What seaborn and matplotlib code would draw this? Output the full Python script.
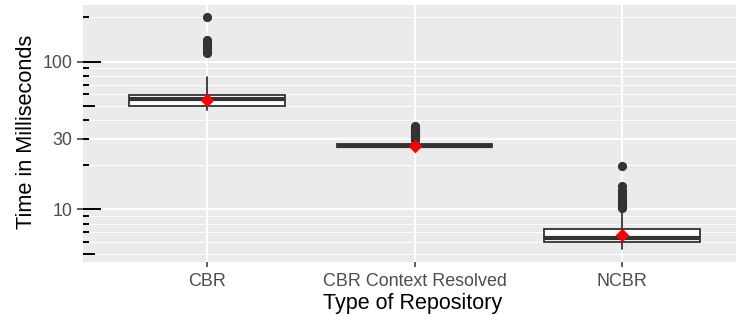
import matplotlib
matplotlib.use("Agg")
import matplotlib.pyplot as plt
from matplotlib.ticker import NullFormatter
import pandas as pd
import seaborn as sns

# ---------------- data ----------------
categories = ["CBR", "CBR Context Resolved", "NCBR"]
q1_ms = [49.9, 26.4, 6.00]
median_ms = [55.7, 27.0, 6.37]
q3_ms = [59.5, 27.5, 7.35]
whisker_low_ms = [47.1, 26.0, 5.36]
whisker_high_ms = [79.1, 29.2, 9.9]
mean_ms = [55.0, 27.0, 6.67]
outliers_cbr = [202, 140, 134, 129, 124, 119, 115]
outliers_ctx = [36.4, 35.5, 34.8, 34.0, 33.3, 32.6, 32.0, 31.4, 30.8, 30.2, 29.7]
outliers_ncbr = [19.6, 14.3, 13.6, 13.0, 12.5, 12.0, 11.6, 11.2, 10.8, 10.5, 10.2]

y_major_ticks = [10, 30, 100]
y_tick_labels = ["10", "30", "100"]
y_minor_grid = [5, 6, 7, 8, 9, 20, 40, 50, 60, 70, 80, 90, 200]
log_ticks_long = [10, 100]
log_ticks_mid = [5, 50]
log_ticks_short = [6, 7, 8, 9, 20, 30, 40, 60, 70, 80, 90, 200]

x_title = "Type of Repository"
y_title = "Time in Milliseconds"

# ---------------- style ----------------
sns.set_theme(style="darkgrid")
plt.rcParams["font.family"] = ["Liberation Sans", "DejaVu Sans"]

W, H = 736, 320
pl, pr, pt, pb = 82.7, 736.0, 5.0, 261.7
fig = plt.figure(figsize=(W / 100, H / 100), dpi=100)
ax = fig.add_axes([pl / W, (H - pb) / H, (pr - pl) / W, (pb - pt) / H])
ax.set_facecolor("#EBEBEB")
for s in ax.spines.values():
    s.set_visible(False)

# ---------------- outliers and means (seaborn) ----------------
out_df = pd.DataFrame({
    "category": [categories[0]] * len(outliers_cbr)
    + [categories[1]] * len(outliers_ctx)
    + [categories[2]] * len(outliers_ncbr),
    "ms": outliers_cbr + outliers_ctx + outliers_ncbr,
})
mean_df = pd.DataFrame({"category": categories, "ms": mean_ms})

sns.stripplot(data=out_df, x="category", y="ms", order=categories,
              jitter=False, color="#333333", size=6.6, linewidth=0,
              zorder=3, ax=ax)

# ---------------- boxes ----------------
stats = []
for i in range(len(categories)):
    stats.append({"med": median_ms[i], "q1": q1_ms[i], "q3": q3_ms[i],
                  "whislo": whisker_low_ms[i], "whishi": whisker_high_ms[i],
                  "fliers": []})
ax.bxp(stats, positions=list(range(len(categories))), widths=0.75,
       showfliers=False, showcaps=False, patch_artist=True,
       manage_ticks=False,
       boxprops=dict(facecolor="white", edgecolor="#333333", linewidth=1.3),
       whiskerprops=dict(color="#333333", linewidth=1.3),
       medianprops=dict(color="#333333", linewidth=3.0, solid_capstyle="butt"),
       zorder=2)

sns.stripplot(data=mean_df, x="category", y="ms", order=categories,
              jitter=False, color="red", marker="D", size=7.0, linewidth=0,
              zorder=4, ax=ax)

# ---------------- axes ----------------
ax.set_yscale("log")
ax.set_yticks(y_major_ticks)
ax.set_yticklabels(y_tick_labels)
ax.set_yticks(y_minor_grid, minor=True)
ax.yaxis.set_minor_formatter(NullFormatter())
ax.set_xticks(range(len(categories)))
ax.set_xticklabels(categories)

ax.grid(which="major", color="white", linewidth=1.45)
ax.grid(which="minor", axis="y", color="white", linewidth=0.75)
ax.set_axisbelow(True)

ax.tick_params(axis="y", which="major", direction="out", length=4.3,
               width=1.1, color="#333333", labelsize=12.8,
               labelcolor="#4D4D4D", pad=3.4, left=True)
ax.tick_params(axis="y", which="minor", length=0)
ax.tick_params(axis="x", which="major", direction="out", length=3.3,
               width=1.1, color="#333333", labelsize=12.9,
               labelcolor="#4D4D4D", pad=5.0, bottom=True)

# log tick annotation on the left (inside the panel)
ytr = ax.get_yaxis_transform()
for vals, length in [(log_ticks_long, 18.3), (log_ticks_mid, 12.3),
                     (log_ticks_short, 6.6)]:
    frac = length / (pr - pl)
    for v in vals:
        ax.plot([0, frac], [v, v], transform=ytr, color="black",
                linewidth=1.4, solid_capstyle="butt", zorder=5,
                clip_on=False)
ax.set_ylim(4.42, 242)
ax.set_xlim(-0.599, 2.549)

# ---------------- titles ----------------
ax.set_xlabel(x_title, fontsize=15.5, color="black")
ax.xaxis.label.set_va("baseline")
ax.xaxis.set_label_coords((412.5 - pl) / (pr - pl), (pb - 308.7) / (pb - pt))
ax.set_ylabel(y_title, fontsize=15.7, color="black")
ax.yaxis.label.set_va("baseline")
ax.yaxis.set_label_coords((32.3 - pl) / (pr - pl), (pb - 132.3) / (pb - pt))

fig.savefig("out.png", dpi=100)
